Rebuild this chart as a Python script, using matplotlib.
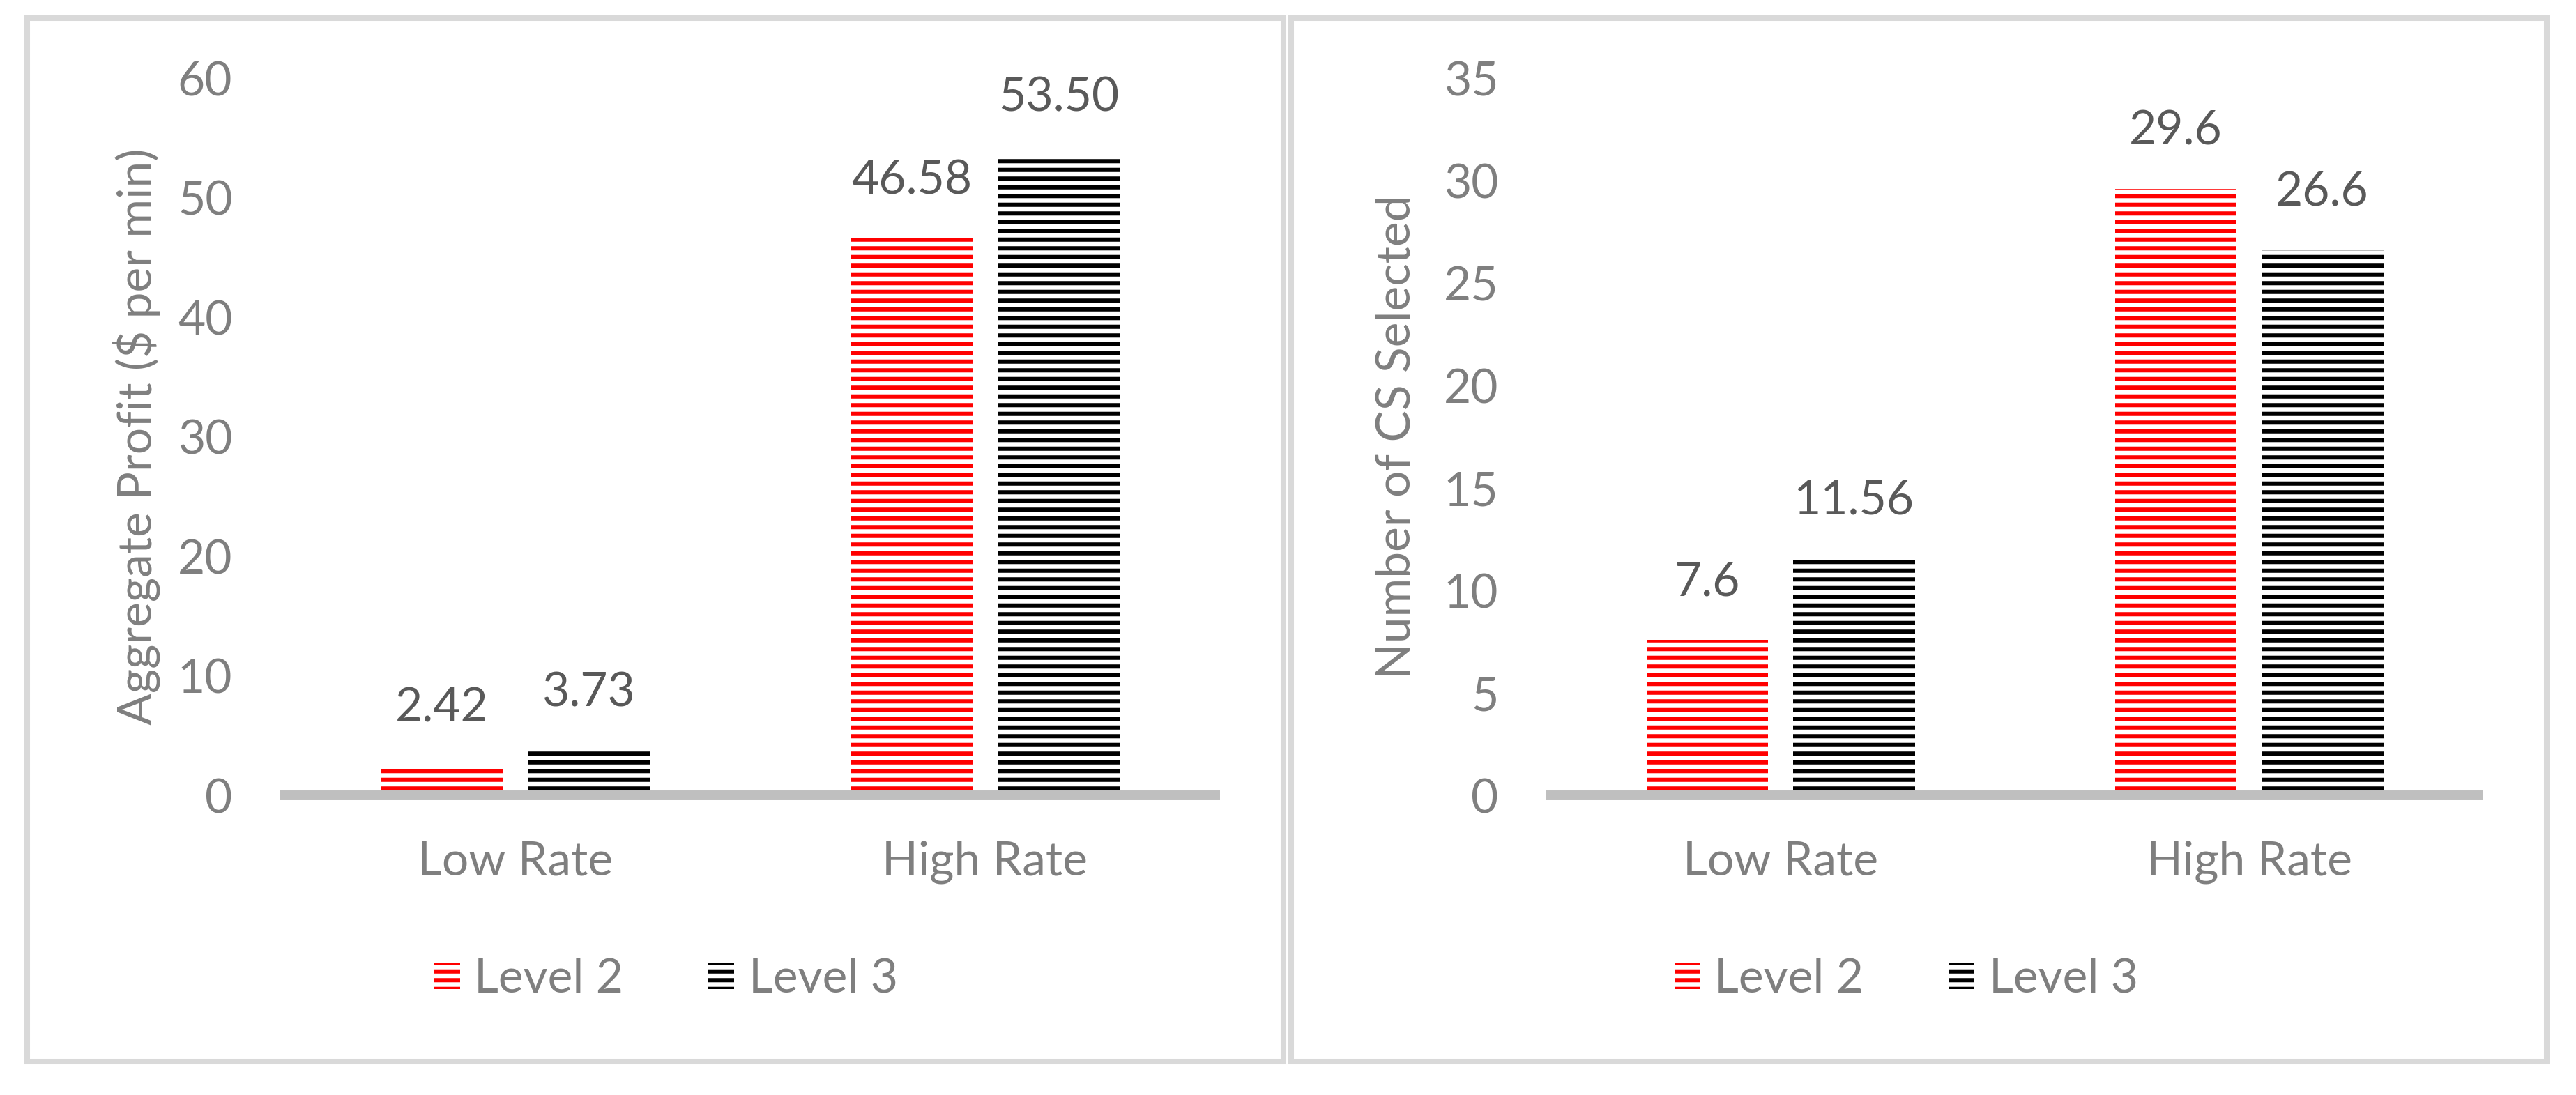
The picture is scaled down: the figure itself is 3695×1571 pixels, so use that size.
import matplotlib.pyplot as plt
from matplotlib.patches import Rectangle, Patch

categories = ["Low Rate", "High Rate"]
series_names = ["Level 2", "Level 3"]

profit_level2 = [2.42, 46.58]
profit_level3 = [3.73, 53.50]
profit_text2 = ["2.42", "46.58"]
profit_text3 = ["3.73", "53.50"]

cs_level2 = [7.6, 29.6]
cs_level3 = [11.56, 26.6]
cs_text2 = ["7.6", "29.6"]
cs_text3 = ["11.56", "26.6"]

DPI = 75
FS = 65
TICK_COLOR = "#7F7F7F"
LABEL_COLOR = "#595959"
COLORS = ["#FF0000", "#000000"]

plt.rcParams["font.family"] = ["Lato", "DejaVu Sans"]
plt.rcParams["hatch.linewidth"] = 5.8


def draw_panel(fig, rect, vals2, vals3, text2, text3, ymax, ystep, ylabel, label_x):
    ax = fig.add_axes(rect)
    x = list(range(len(categories)))
    w = 0.26
    off = 0.1565
    for vals, texts, color, sign in [(vals2, text2, COLORS[0], -1), (vals3, text3, COLORS[1], 1)]:
        pos = [i + sign * off for i in x]
        ax.bar(pos, vals, width=w, facecolor="white", edgecolor=color,
               hatch="-", linewidth=0, zorder=1)
        for p, v, t in zip(pos, vals, texts):
            ax.annotate(t, (p, v), xytext=(0, 61), textcoords="offset points",
                        ha="center", va="baseline", fontsize=FS, color=LABEL_COLOR)
    ax.set_xlim(-0.5, len(categories) - 0.5)
    ax.set_ylim(0, ymax)
    ax.set_yticks(range(0, ymax + 1, ystep))
    ax.set_xticks(x)
    ax.set_xticklabels(categories)
    for s in ["left", "right", "top"]:
        ax.spines[s].set_visible(False)
    ax.spines["bottom"].set_color("#BFBFBF")
    ax.spines["bottom"].set_linewidth(13.4)
    ax.spines["bottom"].set_capstyle("butt")
    ax.tick_params(axis="y", length=0, pad=66, labelsize=FS, labelcolor=TICK_COLOR)
    ax.tick_params(axis="x", length=0, pad=62, labelsize=FS, labelcolor=TICK_COLOR)
    ax.set_ylabel(ylabel, fontsize=FS, color=TICK_COLOR)
    ax.yaxis.label.set_va("center")
    ax.yaxis.set_label_coords(label_x, 0.5)
    return ax


def add_legend(fig, cx, cy):
    handles = [Patch(facecolor="white", edgecolor=c, hatch="-", linewidth=0) for c in COLORS]
    fig.legend(handles, series_names, loc="center", bbox_to_anchor=(cx, cy), ncol=2,
               frameon=False, fontsize=FS, labelcolor=TICK_COLOR,
               handlelength=0.55, handleheight=0.5, handletextpad=0.3,
               columnspacing=1.8)


def main():
    fig = plt.figure(figsize=(3695 / DPI, 1571 / DPI), dpi=DPI)

    for x0, w in [(0.01055, 0.4877), (0.5012, 0.4874)]:
        fig.patches.append(Rectangle((x0, 0.03055), w, 0.9529, transform=fig.transFigure,
                                     fill=False, edgecolor="#D9D9D9", linewidth=7.7))

    draw_panel(fig, [0.1088, 0.2737, 0.3648, 0.6550], profit_level2, profit_level3,
               profit_text2, profit_text3, 60, 10, "Aggregate Profit ($ per min)", -0.153)
    draw_panel(fig, [0.6003, 0.2737, 0.3637, 0.6550], cs_level2, cs_level3,
               cs_text2, cs_text3, 35, 5, "Number of CS Selected", -0.160)

    add_legend(fig, 0.2585, 0.1057)
    add_legend(fig, 0.740, 0.1057)

    fig.savefig("out.png", dpi=DPI)


if __name__ == "__main__":
    main()
